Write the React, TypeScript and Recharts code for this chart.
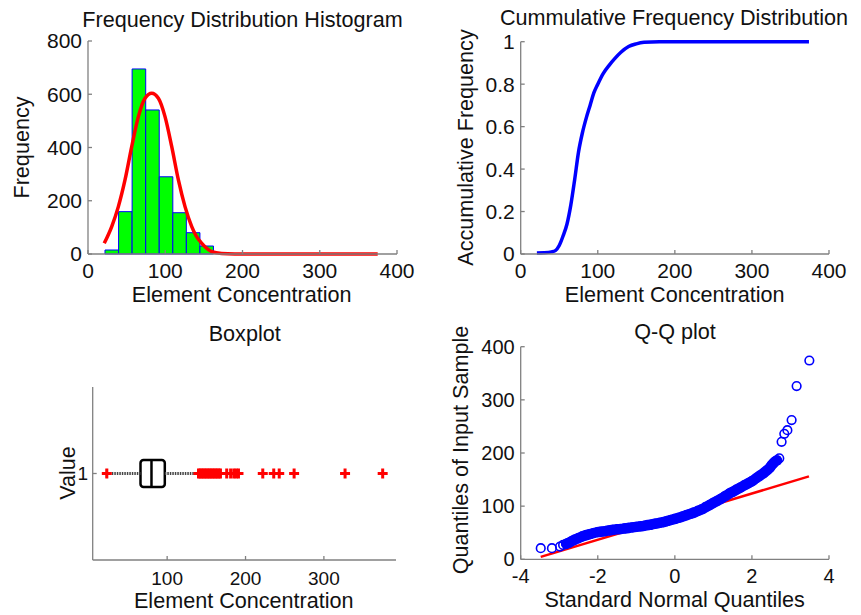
import React from 'react';
import {
  ComposedChart, LineChart, ScatterChart, Line, Scatter, XAxis, YAxis,
  ReferenceArea, ReferenceLine,
} from 'recharts';

// histogram bins (edges) and counts
const HIST_EDGES = [22, 39.6, 57.1, 74.7, 92.2, 109.8, 127.3, 144.9, 162.4];
const HIST_FREQ = [15, 159, 695, 541, 290, 155, 80, 30];

// fitted normal curve
const NORM_X = [21, 30.7, 39.3, 47.9, 56.6, 65.2, 73.8, 82.5, 91.1, 99.7, 108.4, 117, 125.6, 134.3, 140, 147.3, 160.2, 173, 190, 220, 300, 375];
const NORM_Y = [40, 103, 178, 278, 403, 516, 585, 604, 585, 516, 403, 278, 178, 103, 68, 40, 9, 2, 0.3, 0, 0, 0];

// cumulative distribution
const CDF_X = [21, 30, 40, 45, 50, 55, 60, 65, 70, 75, 80, 85, 90, 95, 100, 107, 115, 122, 130, 140, 150, 160, 180, 374];
const CDF_Y = [0.005, 0.006, 0.01, 0.016, 0.04, 0.085, 0.14, 0.23, 0.35, 0.48, 0.57, 0.64, 0.7, 0.76, 0.8, 0.85, 0.89, 0.92, 0.95, 0.977, 0.99, 0.997, 1, 1];

// boxplot summary
const BOX_Q1 = 66;
const BOX_MEDIAN = 80;
const BOX_Q3 = 97;
const WHISKER_LOW = 23;
const WHISKER_HIGH = 140;
const OUTLIERS = [23, 140, 142, 144, 146, 148, 150, 152, 154, 156, 158, 160, 162, 164, 166, 168, 176, 181, 185, 188, 191, 222, 236, 243, 262, 327, 375];

// Q-Q plot points (standard normal quantile, sample quantile)
const QQ_Z = [-3.48, -3.19, -2.98, -2.9, -2.82, -2.75, -2.68, -2.6, -2.5, -2.4, -2.3, -2.2, -2.1, -2.0, -1.9, -1.8, -1.7, -1.6, -1.5, -1.4, -1.3, -1.2, -1.1, -1.0, -0.9, -0.8, -0.7, -0.6, -0.5, -0.4, -0.3, -0.2, -0.1, 0, 0.1, 0.2, 0.3, 0.4, 0.5, 0.6, 0.7, 0.8, 0.9, 1.0, 1.1, 1.2, 1.3, 1.4, 1.5, 1.6, 1.7, 1.8, 1.9, 2.0, 2.1, 2.2, 2.3, 2.4, 2.46, 2.51, 2.56, 2.6, 2.65, 2.71, 2.77, 2.84, 2.92, 3.03, 3.16, 3.49];
const QQ_V = [21, 21, 24, 27, 29, 31, 34, 37, 40, 43, 45.5, 47.5, 49.5, 51, 52, 53, 54.5, 55.5, 56.5, 57, 58, 59, 60, 61, 62, 63, 64.5, 65.5, 67, 68.5, 70, 72, 74, 76, 78, 80.5, 83, 85.5, 88, 91, 94, 98, 102, 106, 110, 114, 118.5, 123, 127, 131, 135, 139, 143, 147, 152, 157, 162, 168, 172, 177, 181, 184, 186, 190, 221, 236, 243, 262, 326, 374];
// range where the markers overlap into a solid band
const QQ_DENSE = [-2.85, 2.65];
const QQ_LINE_Z = [-3.48, 3.48];
const QQ_LINE_V = [4.5, 156];

const FONT = '"Liberation Sans", Arial, sans-serif';
const AXIS = { stroke: '#808080', strokeWidth: 1.3 };
const TEXT = '#111';

const histBins = HIST_FREQ.map((f, i) => ({ x1: HIST_EDGES[i], x2: HIST_EDGES[i + 1], f }));
const normData = NORM_X.map((x, i) => ({ x, f: NORM_Y[i] }));
const cdfData = CDF_X.map((x, i) => ({ x, p: CDF_Y[i] }));
const outlierData = OUTLIERS.map((x) => ({ x, y: 1 }));
const qqData = QQ_Z.map((x, i) => ({ x, y: QQ_V[i] }));
const qqBand = qqData.filter((d) => d.x >= QQ_DENSE[0] && d.x <= QQ_DENSE[1]);
const qqLine = QQ_LINE_Z.map((x, i) => ({ x, y: QQ_LINE_V[i] }));

const Cross = (props: any) => {
  const { cx, cy } = props;
  return (
    <g stroke="#ff0000" strokeWidth={3}>
      <line x1={cx - 5} y1={cy} x2={cx + 5} y2={cy} />
      <line x1={cx} y1={cy - 5} x2={cx} y2={cy + 5} />
    </g>
  );
};

const Ring = (props: any) => {
  const { cx, cy } = props;
  return <circle cx={cx} cy={cy} r={4.3} fill="none" stroke="#0000ff" strokeWidth={1.6} />;
};

const tickStyle = (size: number) => ({ fontSize: size, fill: TEXT, fontFamily: FONT });

const App: React.FC = () => {
  return (
    <div style={{ position: 'absolute', left: 0, top: 0, width: 861, height: 615, background: '#fff', fontFamily: FONT }}>
      {/* histogram */}
      <div style={{ position: 'absolute', left: 0, top: 0 }}>
        <ComposedChart width={430} height={310} data={normData} margin={{ top: 41, right: 33, bottom: 26, left: 38 }}>
          <XAxis type="number" dataKey="x" domain={[0, 400]} ticks={[0, 100, 200, 300, 400]} interval={0}
            height={30} axisLine={AXIS} tickLine={AXIS} tickSize={-4} tickMargin={13} tick={tickStyle(21)} />
          <YAxis type="number" domain={[0, 800]} ticks={[0, 200, 400, 600, 800]} interval={0}
            width={50} axisLine={AXIS} tickLine={AXIS} tickSize={-4} tickMargin={10} tick={tickStyle(21)} />
          {histBins.map((b, i) => (
            <ReferenceArea key={i} x1={b.x1} x2={b.x2} y1={0} y2={b.f}
              fill="#00ff00" fillOpacity={1} stroke="#0000ff" strokeWidth={1} />
          ))}
          <Line type="monotone" dataKey="f" stroke="#ff0000" strokeWidth={3.5} dot={false} isAnimationActive={false} />
        </ComposedChart>
      </div>

      {/* cumulative */}
      <div style={{ position: 'absolute', left: 430, top: 0 }}>
        <LineChart width={431} height={310} data={cdfData} margin={{ top: 41.7, right: 32, bottom: 26, left: 40.7 }}>
          <XAxis type="number" dataKey="x" domain={[0, 400]} ticks={[0, 100, 200, 300, 400]} interval={0}
            height={30} axisLine={AXIS} tickLine={AXIS} tickSize={-4} tickMargin={13} tick={tickStyle(21)} />
          <YAxis type="number" domain={[0, 1]} ticks={[0, 0.2, 0.4, 0.6, 0.8, 1]} interval={0}
            width={50} axisLine={AXIS} tickLine={AXIS} tickSize={-4} tickMargin={10} tick={tickStyle(21)} />
          <Line type="monotone" dataKey="p" stroke="#0000ff" strokeWidth={3.5} dot={false} isAnimationActive={false} />
        </LineChart>
      </div>

      {/* boxplot */}
      <div style={{ position: 'absolute', left: 0, top: 310 }}>
        <ScatterChart width={430} height={305} margin={{ top: 77, right: 34, bottom: 25, left: 42.7 }}>
          <XAxis type="number" dataKey="x" domain={[5, 392]} ticks={[100, 200, 300]} interval={0} allowDataOverflow
            height={30} axisLine={AXIS} tickLine={AXIS} tickSize={-4} tickMargin={15.7} tick={tickStyle(19)} />
          <YAxis type="number" dataKey="y" domain={[0.5, 1.5]} ticks={[1]} interval={0}
            width={50} axisLine={AXIS} tickLine={AXIS} tickSize={-4} tickMargin={8.5} tick={tickStyle(19)} />
          <ReferenceLine segment={[{ x: WHISKER_LOW, y: 1 }, { x: BOX_Q1, y: 1 }]} stroke="#444" strokeWidth={3} strokeDasharray="1.5 1" />
          <ReferenceLine segment={[{ x: BOX_Q3, y: 1 }, { x: WHISKER_HIGH, y: 1 }]} stroke="#444" strokeWidth={3} strokeDasharray="1.5 1" />
          <ReferenceLine segment={[{ x: WHISKER_LOW, y: 0.975 }, { x: WHISKER_LOW, y: 1.025 }]} stroke="#000" strokeWidth={2} />
          <ReferenceLine segment={[{ x: WHISKER_HIGH, y: 0.975 }, { x: WHISKER_HIGH, y: 1.025 }]} stroke="#000" strokeWidth={2} />
          <ReferenceArea x1={BOX_Q1} x2={BOX_Q3} y1={0.922} y2={1.078} fill="#fff" fillOpacity={1} stroke="#000" strokeWidth={2.5} radius={3} />
          <ReferenceLine segment={[{ x: BOX_MEDIAN, y: 0.922 }, { x: BOX_MEDIAN, y: 1.078 }]} stroke="#000" strokeWidth={2.5} />
          <Scatter data={outlierData} dataKey="y" shape={<Cross />} isAnimationActive={false} />
        </ScatterChart>
      </div>

      {/* Q-Q */}
      <div style={{ position: 'absolute', left: 430, top: 310 }}>
        <ComposedChart width={431} height={305} margin={{ top: 36.7, right: 32, bottom: 25.7, left: 40.7 }}>
          <XAxis type="number" dataKey="x" domain={[-4, 4]} ticks={[-4, -2, 0, 2, 4]} interval={0}
            height={30} axisLine={AXIS} tickLine={AXIS} tickSize={-4} tickMargin={13} tick={tickStyle(20)} />
          <YAxis type="number" dataKey="y" domain={[0, 400]} ticks={[0, 100, 200, 300, 400]} interval={0}
            width={50} axisLine={AXIS} tickLine={AXIS} tickSize={-4} tickMargin={10} tick={tickStyle(20)} />
          <Line data={qqLine} dataKey="y" type="linear" stroke="#ff0000" strokeWidth={2.5}
            dot={false} isAnimationActive={false} />
          <Line data={qqBand} dataKey="y" type="monotone" stroke="#0000ff" strokeWidth={10.5} strokeLinecap="round"
            dot={false} isAnimationActive={false} />
          <Scatter data={qqData} dataKey="y" shape={<Ring />} isAnimationActive={false} />
        </ComposedChart>
      </div>

      {/* titles and axis labels */}
      <svg width={861} height={615} style={{ position: 'absolute', left: 0, top: 0, pointerEvents: 'none' }}>
        <g fontFamily={FONT} fontSize={21.6} fill={TEXT} textAnchor="middle">
          <text x={242.5} y={27}>Frequency Distribution Histogram</text>
          <text x={241.7} y={302}>Element Concentration</text>
          <text transform="translate(28.5,147.5) rotate(-90)">Frequency</text>

          <text x={674} y={25}>Cummulative Frequency Distribution</text>
          <text x={674.7} y={302}>Element Concentration</text>
          <text transform="translate(472.5,147.5) rotate(-90)">Accumulative Frequency</text>

          <text x={244.7} y={341}>Boxplot</text>
          <text x={243.8} y={608}>Element Concentration</text>
          <text transform="translate(75,473) rotate(-90)">Value</text>

          <text x={675} y={339}>Q-Q plot</text>
          <text x={674.7} y={607}>Standard Normal Quantiles</text>
          <text transform="translate(468,450) rotate(-90)">Quantiles of Input Sample</text>
        </g>
      </svg>
    </div>
  );
};

export default App;
